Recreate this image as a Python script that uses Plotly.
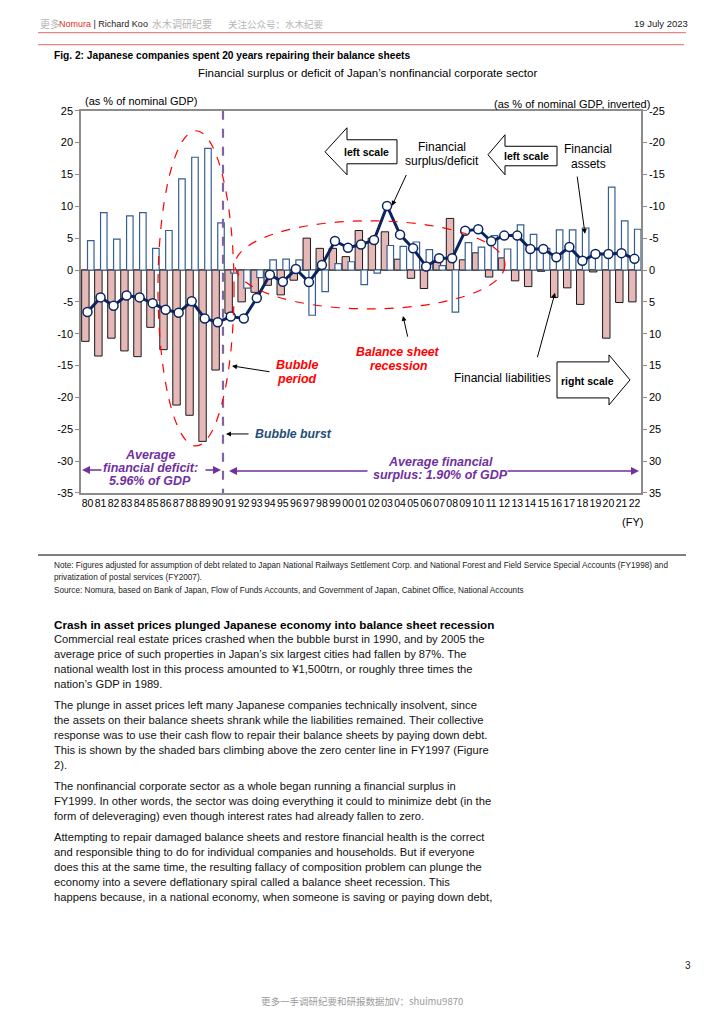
import plotly.graph_objects as go

W, H = 724, 1024

# ---------------- data ----------------
years = ['80', '81', '82', '83', '84', '85', '86', '87', '88', '89', '90',
         '91', '92', '93', '94', '95', '96', '97', '98', '99', '00', '01',
         '02', '03', '04', '05', '06', '07', '08', '09', '10', '11', '12',
         '13', '14', '15', '16', '17', '18', '19', '20', '21', '22']

# net acquisition of financial assets (% of GDP) - drawn upward on inverted right scale
fin_assets = [4.6, 9.0, 4.85, 8.5, 9.0, 3.4, 6.2, 14.3, 17.7, 19.1, 7.4,
              -0.5, -2.85, -1.2, 1.6, 1.7, 1.6, -7.1, -3.4, 1.0, 1.3, -2.3,
              -0.5, 3.85, 3.7, 4.4, 3.2, 0.7, -6.6, 4.3, 3.6, 5.4, 3.3,
              7.1, 5.6, 3.4, 6.3, 6.3, 6.6, 2.6, 13.0, 7.7, 6.4]

# net incurrence of financial liabilities (% of GDP) - right scale (inverted)
fin_liabilities = [11.2, 13.5, 10.7, 12.7, 13.6, 9.0, 12.5, 21.2, 22.8, 26.9, 15.7,
                   6.8, 5.0, 3.5, 2.4, 3.9, 1.6, -5.0, -3.4, -3.4, -2.1, -6.2,
                   -5.0, -6.0, -1.7, 1.3, 2.9, -1.2, -8.1, -1.6, -2.7, 1.1, -1.9,
                   1.7, 2.6, 0.2, 4.3, 2.8, 5.4, 0.3, 10.7, 5.1, 5.0]

# financial surplus / deficit (% of GDP) - left scale
fin_balance = [-6.6, -4.3, -5.6, -4.0, -4.3, -5.2, -6.25, -6.7, -4.9, -7.6, -8.2,
               -7.3, -7.6, -4.4, -0.75, -1.85, 0.15, -1.9, 0.8, 4.55, 3.5, 4.0,
               4.7, 10.05, 5.55, 3.4, 0.55, 1.85, 1.85, 6.15, 6.4, 4.5, 5.4,
               5.4, 3.3, 3.3, 2.0, 3.6, 1.45, 2.5, 2.5, 2.65, 1.75]

left_ticks = [25, 20, 15, 10, 5, 0, -5, -10, -15, -20, -25, -30, -35]
left_ticktext = ['25', '20', '15', '10', '5', '0', '-5', '-10', '-15', '-20', '-25', '-30', '-35']
right_ticks = [-25, -20, -15, -10, -5, 0, 5, 10, 15, 20, 25, 30, 35]
right_ticktext = ['-25', '-20', '-15', '-10', '-5', '0', '5', '10', '15', '20', '25', '30', '35']

# ---------------- helpers (page pixel -> paper coords) ----------------
OFF_X, OFF_Y, SY = 8.0, 14.3, 0.9877


def X(x):
    return (x - OFF_X) / W


def Y(y):
    return 1 - ((y - OFF_Y) / SY) / H


FONT = 'Liberation Sans'
NAVY = '#0B2460'
PURPLE = '#7030A0'
RED = '#FF0000'
GRID = '#8C8C8C'

PL, PR, PT, PB = 81, 641, 111, 493

fig = go.Figure()

fig.add_bar(x=years, y=fin_liabilities, yaxis='y',
            marker=dict(color='#E6B9B8', line=dict(color='#1a1a1a', width=1)),
            width=0.57, offset=-0.45, name='Financial liabilities')
fig.add_bar(x=years, y=[-v for v in fin_assets], yaxis='y',
            marker=dict(color='white', line=dict(color='#365F91', width=1.2)),
            width=0.5, offset=0.0, name='Financial assets')
fig.add_scatter(x=years, y=fin_balance, yaxis='y2', mode='lines+markers',
                line=dict(color=NAVY, width=3),
                marker=dict(symbol='circle', size=9, color='white',
                            line=dict(color=NAVY, width=1.5)),
                name='Financial surplus/deficit')

fig.update_layout(
    width=W, height=H,
    margin=dict(l=0, r=0, t=0, b=0),
    paper_bgcolor='white', plot_bgcolor='white',
    showlegend=False, barmode='overlay',
    font=dict(family=FONT, size=11, color='#000000'),
    xaxis=dict(domain=[X(PL), X(PR)], type='category', range=[-0.5, 42.5],
               showline=True, linecolor=GRID, linewidth=1.5, mirror=True,
               ticks='', showgrid=False, zeroline=False, tickangle=0,
               tickfont=dict(family=FONT, size=10.5, color='#000')),
    yaxis=dict(domain=[Y(PB), Y(PT)], side='right', range=[35, -25],
               tickvals=right_ticks, ticktext=right_ticktext,
               showline=True, linecolor=GRID, linewidth=1.5,
               ticks='outside', ticklen=4, tickcolor=GRID,
               showgrid=False, zeroline=True, zerolinecolor=GRID, zerolinewidth=1.5,
               tickfont=dict(family=FONT, size=11, color='#000')),
    yaxis2=dict(overlaying='y', side='left', range=[-35, 25],
                tickvals=left_ticks, ticktext=left_ticktext,
                showline=True, linecolor=GRID, linewidth=1.5,
                ticks='outside', ticklen=4, tickcolor=GRID,
                showgrid=False, zeroline=False,
                tickfont=dict(family=FONT, size=11, color='#000')),
)

shapes = []
annotations = []


def text(x, y, s, size=11, color='#000', anchor='left', family=FONT, yanchor='middle'):
    annotations.append(dict(xref='paper', yref='paper', x=X(x), y=Y(y), text=s,
                            showarrow=False, xanchor=anchor, yanchor=yanchor,
                            font=dict(family=family, size=size, color=color)))


def arrow(x_head, y_head, x_tail, y_tail, color='#000', width=1, head=2, size=1.0):
    annotations.append(dict(xref='paper', yref='paper', x=X(x_head), y=Y(y_head),
                            ax=x_tail - x_head, ay=(y_tail - y_head) / SY,
                            axref='pixel', ayref='pixel',
                            text='', showarrow=True, arrowhead=head, arrowsize=size,
                            arrowwidth=width, arrowcolor=color))


def line(x0, y0, x1, y1, color='#000', width=1, dash='solid'):
    shapes.append(dict(type='line', xref='paper', yref='paper', x0=X(x0), y0=Y(y0),
                       x1=X(x1), y1=Y(y1), line=dict(color=color, width=width, dash=dash)))


def poly(points, fill='white', color='#000', width=1):
    d = 'M ' + ' L '.join(f'{X(px):.5f},{Y(py):.5f}' for px, py in points) + ' Z'
    shapes.append(dict(type='path', xref='paper', yref='paper', path=d,
                       fillcolor=fill, line=dict(color=color, width=width)))


def ellipse(x0, y0, x1, y1, color=RED, width=1.2):
    shapes.append(dict(type='circle', xref='paper', yref='paper', x0=X(x0), y0=Y(y1),
                       x1=X(x1), y1=Y(y0), line=dict(color=color, width=width, dash='dash')))


# ---------------- page header ----------------
text(38, 24, '更多', size=10, color='#b5b5b5', family='Noto Sans CJK SC')
text(57, 24, "<span style='color:#E0301E'>Nomura</span> | Richard Koo", size=9, color='#222')
text(150, 24, '水木调研纪要', size=10, color='#b5b5b5', family='Noto Sans CJK SC')
text(226, 24, '关注公众号：水木纪要', size=9.5, color='#b5b5b5', family='Noto Sans CJK SC')
text(690, 24, '19 July 2023', size=9.5, color='#222', anchor='right')
line(38, 33, 686, 33, color='#E06666', width=1)
line(38, 45, 684, 45, color='#E06666', width=1)

text(52, 56, '<b>Fig. 2: Japanese companies spent 20 years repairing their balance sheets</b>', size=10.2)
text(367, 73, 'Financial surplus or deficit of Japan’s nonfinancial corporate sector', size=11.5, anchor='center')
text(83, 101, '(as % of nominal GDP)', size=11)
text(652, 104, '(as % of nominal GDP, inverted)', size=11, anchor='right')
text(632, 522, '(FY)', size=11, anchor='center')

# ---------------- chart decorations ----------------
# bubble burst vertical dashed line
line(223, PT, 223, PB, color='#8064A2', width=2.2, dash='dash')

ellipse(158, 131, 234, 446)
ellipse(235, 221, 505, 309)

# left scale arrows
poly([(325, 152), (347, 128), (347, 140), (397, 140), (397, 164), (347, 164), (347, 175)])
text(366, 152, '<b>left scale</b>', size=10.5, anchor='center')
poly([(488, 155), (505, 135), (505, 146.5), (557, 146.5), (557, 166), (505, 166), (505, 175)])
text(526, 156.5, '<b>left scale</b>', size=10.5, anchor='center')
# right scale arrow
poly([(557, 362), (609, 362), (609, 355), (630, 380), (609, 405), (609, 398), (557, 398)])
text(587, 381, '<b>right scale</b>', size=10.5, anchor='center')

# labels
text(442, 147, 'Financial', size=12, anchor='center')
text(442, 161, 'surplus/deficit', size=12, anchor='center')
arrow(392, 206, 407, 174)
text(588, 149, 'Financial', size=12, anchor='center')
text(588, 164, 'assets', size=12, anchor='center')
arrow(585, 234, 577, 176)
text(503, 378, 'Financial liabilities', size=12, anchor='center')
arrow(555, 293, 537, 358)

text(297, 365, '<b><i>Bubble</i></b>', size=12.5, color=RED, anchor='center')
text(297, 379, '<b><i>period</i></b>', size=12.5, color=RED, anchor='center')
arrow(232, 366, 271, 372)

text(398, 352, '<b><i>Balance sheet</i></b>', size=12.3, color=RED, anchor='center')
text(398, 366, '<b><i>recession</i></b>', size=12.3, color=RED, anchor='center')
arrow(403, 316, 408, 338)

text(293, 434, '<b><i>Bubble burst</i></b>', size=12.3, color='#1F4E79', anchor='center')
arrow(226, 434, 250, 434)

text(150, 455, '<b><i>Average</i></b>', size=12.5, color=PURPLE, anchor='center')
text(150, 468, '<b><i>financial deficit:</i></b>', size=12.5, color=PURPLE, anchor='center')
text(150, 481, '<b><i>5.96% of GDP</i></b>', size=12.5, color=PURPLE, anchor='center')
arrow(82, 470, 103, 470, color=PURPLE, width=1.6)
arrow(221, 470, 204, 470, color=PURPLE, width=1.6)

text(440, 462, '<b><i>Average financial</i></b>', size=12.5, color=PURPLE, anchor='center')
text(440, 475, '<b><i>surplus: 1.90% of GDP</i></b>', size=12.5, color=PURPLE, anchor='center')
arrow(229, 471, 369, 471, color=PURPLE, width=1.6)
arrow(639, 471, 506, 471, color=PURPLE, width=1.6)

# ---------------- notes ----------------
line(38, 555, 686, 555, color='#000', width=1)
text(52, 565, 'Note: Figures adjusted for assumption of debt related to Japan National Railways Settlement Corp. and National Forest and Field Service Special Accounts (FY1998) and', size=8.2, color='#222')
text(52, 577, 'privatization of postal services (FY2007).', size=8.2, color='#222')
text(52, 590, 'Source: Nomura, based on Bank of Japan, Flow of Funds Accounts, and Government of Japan, Cabinet Office, National Accounts', size=8.2, color='#222')

# ---------------- body text ----------------
text(52, 624, '<b>Crash in asset prices plunged Japanese economy into balance sheet recession</b>', size=11.7)
body = [
    (639, 'Commercial real estate prices crashed when the bubble burst in 1990, and by 2005 the'),
    (654, 'average price of such properties in Japan’s six largest cities had fallen by 87%. The'),
    (669, 'national wealth lost in this process amounted to ¥1,500trn, or roughly three times the'),
    (684, 'nation’s GDP in 1989.'),
    (705, 'The plunge in asset prices left many Japanese companies technically insolvent, since'),
    (720, 'the assets on their balance sheets shrank while the liabilities remained. Their collective'),
    (735, 'response was to use their cash flow to repair their balance sheets by paying down debt.'),
    (750, 'This is shown by the shaded bars climbing above the zero center line in FY1997 (Figure'),
    (765, '2).'),
    (786, 'The nonfinancial corporate sector as a whole began running a financial surplus in'),
    (801, 'FY1999. In other words, the sector was doing everything it could to minimize debt (in the'),
    (816, 'form of deleveraging) even though interest rates had already fallen to zero.'),
    (837, 'Attempting to repair damaged balance sheets and restore financial health is the correct'),
    (852, 'and responsible thing to do for individual companies and households. But if everyone'),
    (867, 'does this at the same time, the resulting fallacy of composition problem can plunge the'),
    (882, 'economy into a severe deflationary spiral called a balance sheet recession. This'),
    (897, 'happens because, in a national economy, when someone is saving or paying down debt,'),
]
for yy, s in body:
    text(52, yy, s, size=11.2, color='#111')

text(693, 965, '3', size=10, color='#222', anchor='right')
text(362, 1001, '更多一手调研纪要和研报数据加V：shuimu9870', size=9.5, color='#9a9a9a',
     anchor='center', family='Noto Sans CJK SC')

fig.update_layout(shapes=shapes, annotations=annotations)
fig.write_html('out.html')
